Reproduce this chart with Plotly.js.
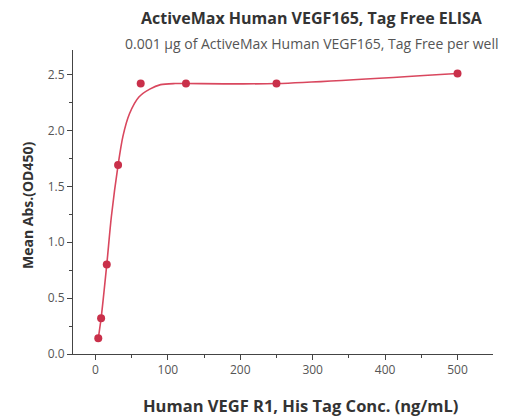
<!DOCTYPE html>
<html>
<head>
<meta charset="utf-8">
<script src="https://cdn.plot.ly/plotly-3.0.1.min.js"></script>
<style>html,body{margin:0;padding:0;background:#fff;}</style>
</head>
<body>
<div id="chart" style="width:517px;height:420px;"></div>
<script>
// Measured points
var concentration = [3.91, 7.81, 15.63, 31.25, 62.5, 125, 250, 500];
var meanAbs = [0.14, 0.32, 0.80, 1.69, 2.42, 2.42, 2.42, 2.51];
// Fitted curve
var fitX = [3.91, 7.81, 15.63, 22, 31.25, 38, 47, 60, 75, 90, 110, 125, 250, 500];
var fitY = [0.14, 0.32, 0.80, 1.23, 1.69, 1.95, 2.15, 2.30, 2.37, 2.41, 2.42, 2.42, 2.42, 2.51];
var xTicks = [0, 100, 200, 300, 400, 500];
var yTicks = [0.0, 0.5, 1.0, 1.5, 2.0, 2.5];

var font = '"Open Sans", "Liberation Sans", sans-serif';
var traces = [
  {x: fitX, y: fitY, mode: 'lines', line: {color: '#d9475e', width: 1.6, shape: 'spline', smoothing: 0.8}, hoverinfo: 'skip'},
  {x: concentration, y: meanAbs, mode: 'markers', marker: {symbol: 'circle', size: 8, color: '#c9304a'}}
];
var layout = {
  width: 517, height: 420,
  margin: {l: 73, r: 24, t: 50, b: 66},
  paper_bgcolor: '#fff', plot_bgcolor: '#fff',
  showlegend: false,
  font: {family: font, color: '#555', size: 12},
  annotations: [
    {text: '<b>ActiveMax Human VEGF165, Tag Free ELISA</b>', xref: 'paper', yref: 'paper', x: 0.569, y: 1, yshift: 32, xanchor: 'center', yanchor: 'middle', showarrow: false, font: {family: font, size: 16, color: '#333'}},
    {text: '0.001 μg of ActiveMax Human VEGF165, Tag Free per well', xref: 'paper', yref: 'paper', x: 0.569, y: 1, yshift: 7, xanchor: 'center', yanchor: 'middle', showarrow: false, font: {family: font, size: 14, color: '#555'}},
    {text: '<b>Human VEGF R1, His Tag Conc. (ng/mL)</b>', xref: 'paper', yref: 'paper', x: 0.542, y: 0, yshift: -51, xanchor: 'center', yanchor: 'middle', showarrow: false, font: {family: font, size: 16.5, color: '#333'}},
    {text: '<b>Mean Abs.(OD450)</b>', xref: 'paper', yref: 'paper', x: 0, xshift: -46, y: 0.49, xanchor: 'center', yanchor: 'middle', textangle: -90, showarrow: false, font: {family: font, size: 14, color: '#333'}}
  ],
  xaxis: {
    range: [-31, 549], tickvals: xTicks, ticktext: xTicks.map(String),
    showgrid: false, zeroline: false, showline: true, linecolor: '#444', linewidth: 1,
    ticks: 'outside', ticklen: 5, tickcolor: '#444',
    minor: {dtick: 50, tick0: 0, ticks: 'outside', ticklen: 3, tickcolor: '#444'},
    tickfont: {size: 12, color: '#555'}
  },
  yaxis: {
    range: [0, 2.72], tickvals: yTicks, ticktext: yTicks.map(function(v){return v.toFixed(1);}),
    showgrid: false, zeroline: false, showline: true, linecolor: '#444', linewidth: 1,
    ticks: 'outside', ticklen: 5, tickcolor: '#444',
    minor: {dtick: 0.25, tick0: 0, ticks: 'outside', ticklen: 3, tickcolor: '#444'},
    tickfont: {size: 12, color: '#555'}
  }
};
Plotly.newPlot('chart', traces, layout, {displayModeBar: false, staticPlot: true});
</script>
</body>
</html>
